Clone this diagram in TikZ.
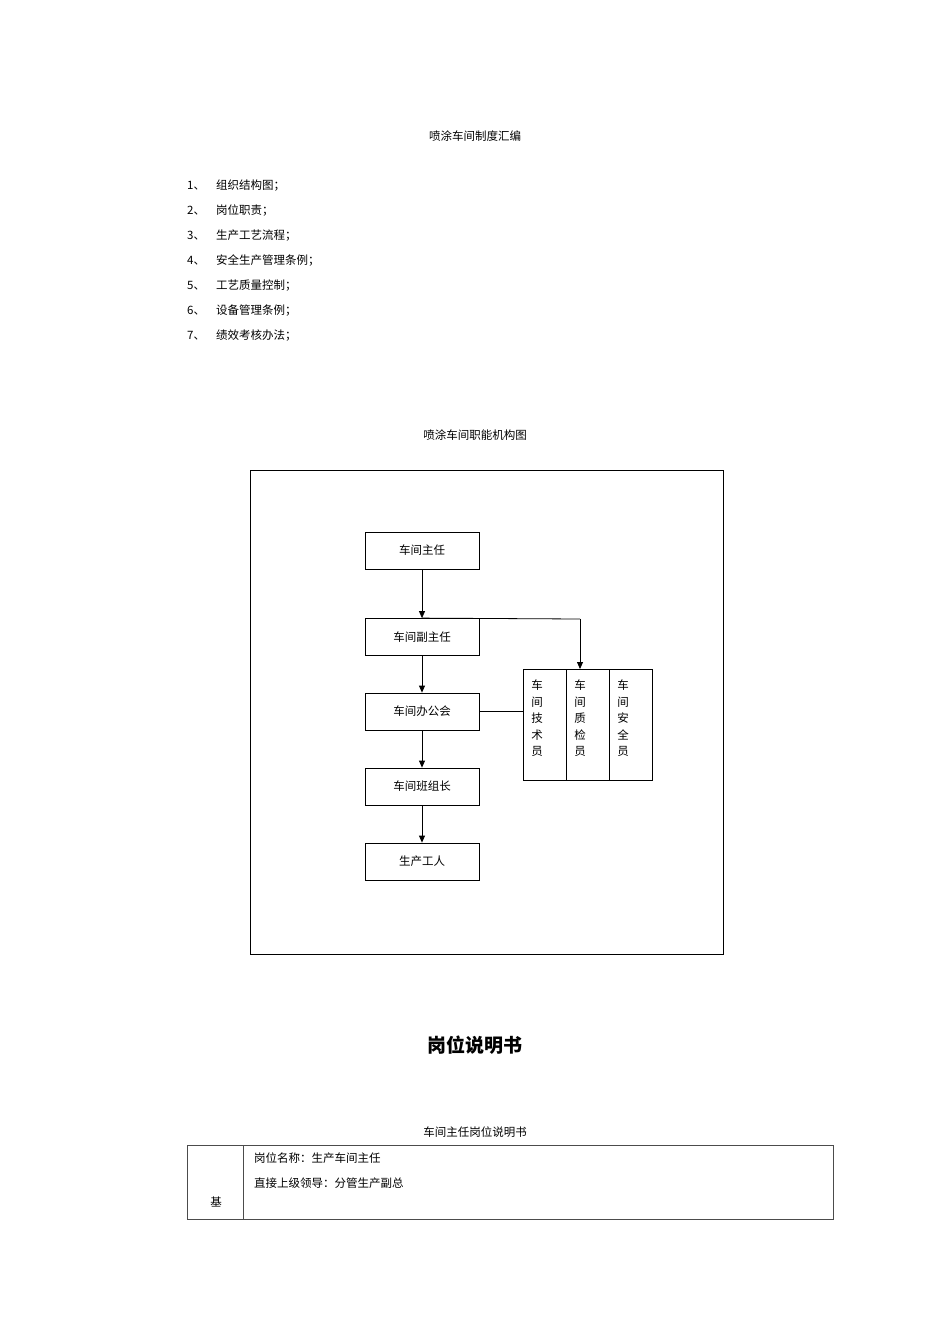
\documentclass[tikz,border=0pt]{standalone}
\usepackage{fontspec}
\setmainfont{Noto Sans CJK SC}
\usetikzlibrary{arrows.meta}
\begin{document}
\begin{tikzpicture}[x=1pt,y=-1pt,
  txt/.style={inner sep=0pt,font=\fontsize{11.5}{14}\selectfont},
  orgbox/.style={draw,line width=0.8pt,minimum width=114pt,minimum height=37pt,inner sep=0pt,font=\fontsize{11.5}{14}\selectfont},
  vbox/.style={draw,line width=0.8pt,minimum width=43pt,minimum height=111pt,inner sep=0pt},
  vtxt/.style={inner sep=0pt,anchor=north,align=center,font=\fontsize{11.5}{16.5}\selectfont},
  arr/.style={-{Triangle[length=7pt,width=6pt]},line width=0.8pt},
  ln/.style={line width=0.8pt}]
\useasboundingbox (0,0) rectangle (950,1344);
\node[txt] (t1) at (475,136) {喷涂车间制度汇编};
\foreach \n/\s [count=\i] in {1/组织结构图；,2/岗位职责；,3/生产工艺流程；,4/安全生产管理条例；,5/工艺质量控制；,6/设备管理条例；,7/绩效考核办法；}{
  \node[txt,anchor=west] (n\i) at (187,{161+25*\i}) {\n、};
  \node[txt,anchor=west] (s\i) at (216,{161+25*\i}) {\s};
}
\node[txt] (t2) at (475,435) {喷涂车间职能机构图};
\draw[ln] (250,470) rectangle (723,954);
\node[orgbox] (a) at (422,550.5) {车间主任};
\node[orgbox] (b) at (422,637) {车间副主任};
\node[orgbox] (c) at (422,711.5) {车间办公会};
\node[orgbox] (d) at (422,786.5) {车间班组长};
\node[orgbox] (e) at (422,861.5) {生产工人};
\node[vbox] (r1) at (544.5,724.5) {};
\node[vbox] (r2) at (587.5,724.5) {};
\node[vbox] (r3) at (630.5,724.5) {};
\node[vtxt] at (537,680) {车\\间\\技\\术\\员};
\node[vtxt] at (580,680) {车\\间\\质\\检\\员};
\node[vtxt] at (623,680) {车\\间\\安\\全\\员};
\draw[arr] (a) -- (b);
\draw[arr] (b) -- (c);
\draw[arr] (c) -- (d);
\draw[arr] (d) -- (e);
\coordinate (k) at (580,619);
\draw[ln] (b.north) -- (k);
\draw[arr] (k) -- (580,669);
\draw[ln] (c.east) -- (r1.west |- c.east);
\node[inner sep=0pt,font=\fontsize{19}{22}\selectfont\bfseries] (h) at (475,1045) {岗位说明书};
\node[txt] (t3) at (475,1132) {车间主任岗位说明书};
\draw[line width=0.8pt,black!70] (187,1145) rectangle (833,1219) (243,1145) -- (243,1219);
\node[txt,anchor=west] (p1) at (254,1158) {岗位名称：生产车间主任};
\node[txt,anchor=west] (p2) at (254,1183) {直接上级领导：分管生产副总};
\node[txt] (p3) at (216,1202) {基};
\end{tikzpicture}
\end{document}
